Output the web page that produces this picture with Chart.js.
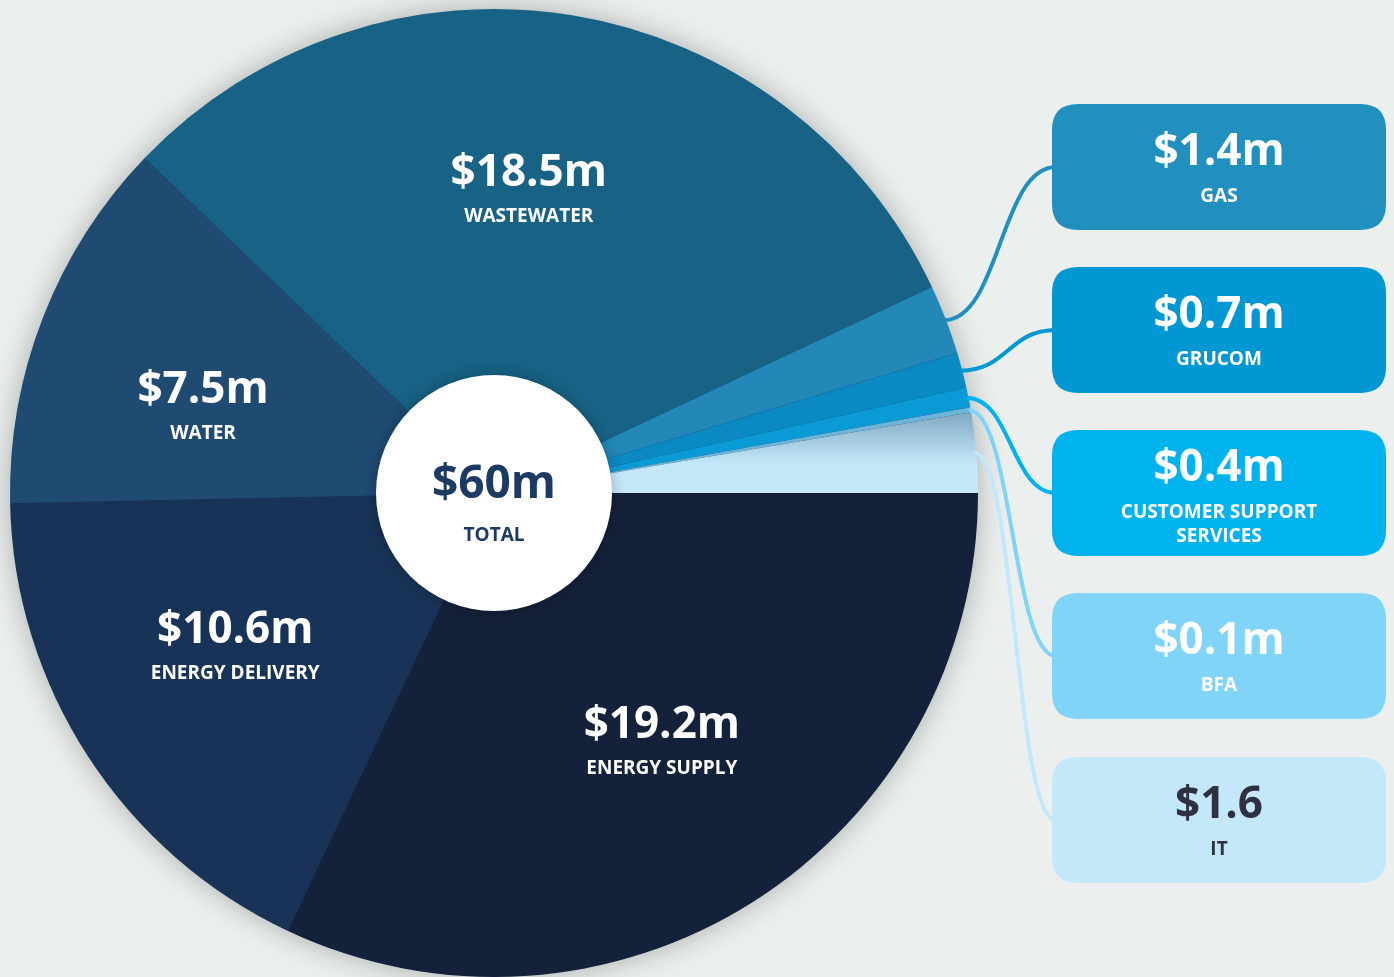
<!DOCTYPE html>
<html>
<head>
<meta charset="utf-8">
<script src="https://cdn.jsdelivr.net/npm/chart.js@4.4.0/dist/chart.umd.min.js"></script>
<style>
  html, body { margin: 0; padding: 0; background: #ebf0ef; }
  #wrap { width: 1394px; height: 977px; }
</style>
</head>
<body>
<div id="wrap"><canvas id="budget-chart" width="1394" height="977"></canvas></div>
<script>
// Chart values (millions), clockwise from 3 o'clock
const categories = ['ENERGY SUPPLY', 'ENERGY DELIVERY', 'WATER', 'WASTEWATER', 'GAS', 'GRUCOM',
  ['CUSTOMER SUPPORT', 'SERVICES'], 'BFA', 'IT'];
const amounts = [19.2, 10.6, 7.5, 18.5, 1.4, 0.7, 0.4, 0.1, 1.6];
const valueLabels = ['$19.2m', '$10.6m', '$7.5m', '$18.5m', '$1.4m', '$0.7m', '$0.4m', '$0.1m', '$1.6'];
const totalLabel = '$60m';
const totalCaption = 'TOTAL';

// Colours
const sliceColors = ['#14213a', '#183357', '#1f4a72', '#176285', '#2388b7', '#0b89c2', '#0a9bd7', '#6cb5d8', '#c4e8f9'];
const boxColors = ['#2190bf', '#0097d3', '#00b2ee', '#80d4f7', '#c4e8f9'];
const boxTextColors = ['#ffffff', '#ffffff', '#ffffff', '#ffffff', '#2e3240'];

// Layout
const FONT = '"Open Sans", "Noto Sans", sans-serif';
const bigSliceCount = 4;
const labelNudge = [-1.3, 1.8, -5.4, -2.7]; // degrees, moves the label inside the slice
const boxLeft = 1052, boxWidth = 334, boxHeight = 126, boxRadius = 26;
const boxTops = [104, 267, 430, 593, 757];
const holeRadius = 118;

function roundRect(ctx, x, y, w, h, r) {
  ctx.beginPath();
  ctx.moveTo(x + r, y);
  ctx.lineTo(x + w - r, y);
  ctx.quadraticCurveTo(x + w, y, x + w, y + r);
  ctx.lineTo(x + w, y + h - r);
  ctx.quadraticCurveTo(x + w, y + h, x + w - r, y + h);
  ctx.lineTo(x + r, y + h);
  ctx.quadraticCurveTo(x, y + h, x, y + h - r);
  ctx.lineTo(x, y + r);
  ctx.quadraticCurveTo(x, y, x + r, y);
  ctx.closePath();
}

const pieDecor = {
  id: 'pieDecor',
  beforeDatasetsDraw(chart) {
    // soft shadow behind the pie
    const arc = chart.getDatasetMeta(0).data[0];
    if (!arc) return;
    const ctx = chart.ctx;
    ctx.save();
    ctx.shadowColor = 'rgba(0,0,0,0.3)';
    ctx.shadowBlur = 30;
    ctx.fillStyle = '#16304f';
    ctx.beginPath();
    ctx.arc(arc.x, arc.y, arc.outerRadius - 1, 0, Math.PI * 2);
    ctx.fill();
    ctx.restore();
  },
  afterDatasetsDraw(chart) {
    const ctx = chart.ctx;
    const arcs = chart.getDatasetMeta(0).data;
    const cx = arcs[0].x, cy = arcs[0].y;

    // labels in the large slices
    ctx.save();
    ctx.textAlign = 'center';
    ctx.textBaseline = 'alphabetic';
    ctx.fillStyle = '#ffffff';
    for (let i = 0; i < bigSliceCount; i++) {
      const a = arcs[i];
      const mid = (a.startAngle + a.endAngle) / 2 + labelNudge[i] * Math.PI / 180;
      const r = a.outerRadius * 0.625;
      const x = cx + r * Math.cos(mid);
      const y = cy + r * Math.sin(mid);
      ctx.font = `700 44px ${FONT}`;
      ctx.fillText(valueLabels[i], x, y - 7);
      ctx.font = `700 19px ${FONT}`;
      ctx.fillText(categories[i], x, y + 29);
    }
    ctx.restore();

    // white centre disc
    ctx.save();
    ctx.shadowColor = 'rgba(0,0,0,0.25)';
    ctx.shadowBlur = 14;
    ctx.fillStyle = '#ffffff';
    ctx.beginPath();
    ctx.arc(cx, cy, holeRadius, 0, Math.PI * 2);
    ctx.fill();
    ctx.restore();

    ctx.save();
    ctx.textAlign = 'center';
    ctx.fillStyle = '#1c3a62';
    ctx.font = `700 46px ${FONT}`;
    ctx.fillText(totalLabel, cx, cy + 5);
    ctx.font = `700 19px ${FONT}`;
    ctx.fillText(totalCaption, cx, cy + 48);
    ctx.restore();

    // connectors and boxes for the small slices
    ctx.save();
    for (let i = bigSliceCount; i < arcs.length; i++) {
      const k = i - bigSliceCount;
      const a = arcs[i];
      const mid = (a.startAngle + a.endAngle) / 2;
      const sx = cx + (a.outerRadius - 2) * Math.cos(mid);
      const sy = cy + (a.outerRadius - 2) * Math.sin(mid);
      const ex = boxLeft + 4;
      const ey = boxTops[k] + boxHeight / 2;
      const mx = sx + (ex - sx) * 0.5;
      ctx.strokeStyle = boxColors[k];
      ctx.lineWidth = 4;
      ctx.beginPath();
      ctx.moveTo(sx, sy);
      ctx.bezierCurveTo(mx, sy, mx, ey, ex, ey);
      ctx.stroke();
    }
    for (let i = bigSliceCount; i < arcs.length; i++) {
      const k = i - bigSliceCount;
      const top = boxTops[k];
      const midY = top + boxHeight / 2;
      const centerX = boxLeft + boxWidth / 2;
      roundRect(ctx, boxLeft, top, boxWidth, boxHeight, boxRadius);
      ctx.fillStyle = boxColors[k];
      ctx.fill();

      const lines = [].concat(categories[i]);
      const shift = (lines.length - 1) * 10;
      ctx.fillStyle = boxTextColors[k];
      ctx.textAlign = 'center';
      ctx.font = `700 44px ${FONT}`;
      ctx.fillText(valueLabels[i], centerX, midY - 2 - shift);
      ctx.font = `700 19px ${FONT}`;
      lines.forEach((ln, j) => ctx.fillText(ln, centerX, midY + 35 - shift + j * 24));
    }
    ctx.restore();
  }
};

const canvas = document.getElementById('budget-chart');
new Chart(canvas.getContext('2d'), {
  type: 'pie',
  data: {
    labels: categories.map(c => [].concat(c).join(' ')),
    datasets: [{
      data: amounts,
      backgroundColor: (c) => {
        const chart = c.chart;
        if (c.dataIndex === 8 && chart.chartArea) {
          const area = chart.chartArea;
          const cy = (area.top + area.bottom) / 2;
          const g = chart.ctx.createLinearGradient(0, cy - 82, 0, cy);
          g.addColorStop(0, '#7fa7c0');
          g.addColorStop(0.65, '#c4e8f9');
          g.addColorStop(1, '#c4e8f9');
          return g;
        }
        return sliceColors[c.dataIndex];
      },
      borderWidth: 0,
      hoverBorderWidth: 0,
      hoverOffset: 0,
      offset: 0
    }]
  },
  options: {
    responsive: false,
    devicePixelRatio: 1,
    animation: false,
    events: [],
    rotation: 90,
    layout: { padding: { left: 10, top: 9, right: 416, bottom: 0 } },
    plugins: {
      legend: { display: false },
      tooltip: { enabled: false }
    }
  },
  plugins: [pieDecor]
});
</script>
</body>
</html>
